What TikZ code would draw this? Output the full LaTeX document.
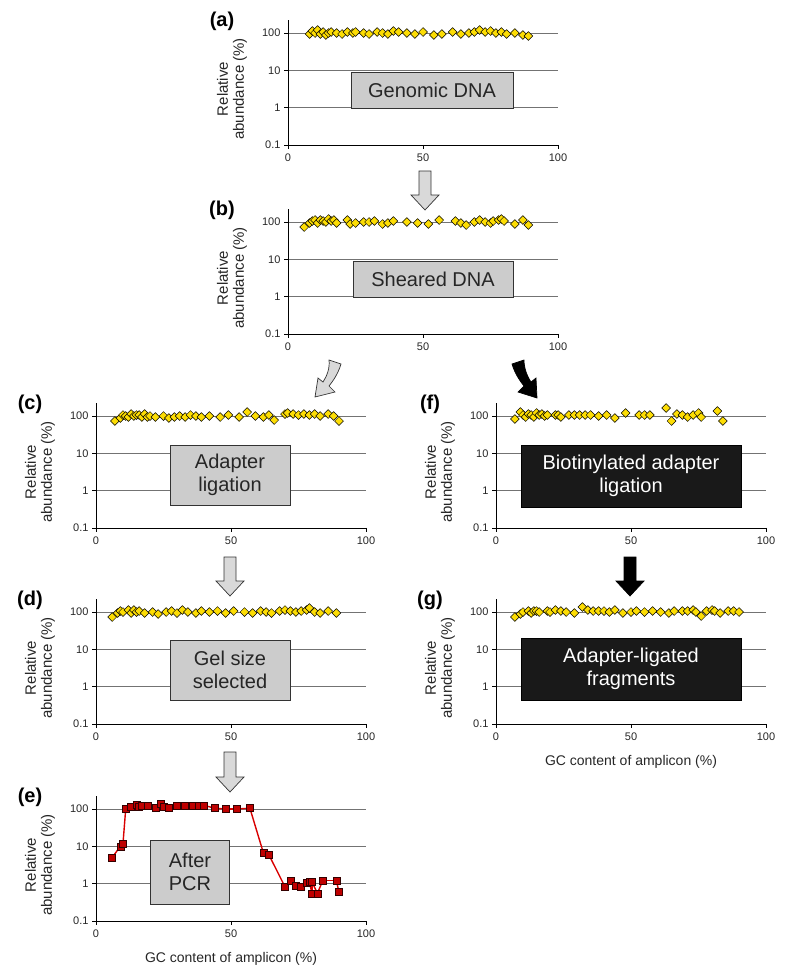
\documentclass[tikz,border=0pt]{standalone}
\usepackage{fontspec}
\setmainfont{Liberation Sans}
\usetikzlibrary{shapes.geometric}
\begin{document}
\begin{tikzpicture}[x=1pt,y=-1pt,
  grid/.style={draw=black!55,line width=0.7pt},
  ax/.style={draw=black,line width=0.8pt},
  tick/.style={font=\fontsize{11}{13}\selectfont,text=black!85},
  ytitle/.style={font=\fontsize{15}{16}\selectfont,align=center,rotate=90,text=black!85},
  plab/.style={font=\fontsize{20}{22}\selectfont\bfseries},
  gbox/.style={draw=black!80,fill=black!20,line width=0.6pt,font=\fontsize{20}{23}\selectfont,align=center,inner sep=0pt,text=black!85},
  bbox/.style={draw=black,fill=black!90,font=\fontsize{20}{23}\selectfont,align=center,inner sep=0pt,text=white},
  dia/.style={draw=black,fill=yellow!80!orange,line width=0.5pt,shape=diamond,inner sep=0pt,minimum width=9pt,minimum height=9pt},
  sq/.style={draw=black!80!red,fill=red!75!black,line width=0.5pt,inner sep=0pt,minimum size=7pt},
  garrow/.style={draw=black!80,fill=black!15,line width=0.7pt},
  barrow/.style={draw=black,fill=black,line width=0.7pt}]
\useasboundingbox (0,0) rectangle (785,980);
\newcommand\pnl[4]{%
  \foreach \k in {0,1,2} {\draw[grid] (#1,#2+\k*37.3) -- (#1+270,#2+\k*37.3);}
  \draw[ax] (#1,#2-13) -- (#1,#2+111.9) -- (#1+270,#2+111.9);
  \foreach \k/\t in {0/100,1/10,2/1,3/0.1} {\draw[ax] (#1-4,#2+\k*37.3) -- (#1,#2+\k*37.3);
    \node[tick,anchor=east] (#3t\k) at (#1-4,#2+\k*37.3) {\t};}
  \foreach \k/\t in {0/0,1/50,2/100} {\draw[ax] (#1+\k*135,#2+111.9) -- (#1+\k*135,#2+116);
    \node[tick,anchor=north] (#3x\k) at (#1+\k*135,#2+117) {\t};}
  \node[ytitle] (#3y) at (#1-56,#2+56) {Relative\\abundance (\%)};
  \node[plab] (#3l) at (#1-66,#2-12) {(#3)};
  \ifx#4y\node[font=\fontsize{14}{16}\selectfont,text=black!85] (#3g) at (#1+135,#2+150) {GC content of amplicon (\%)};\fi
}
\newcommand\dias[3]{\foreach \g/\d in {#3} {\node[dia] at (#1+\g*2.7,#2+\d) {};}}
% panels
\pnl{288}{33}{a}{n}
\pnl{288}{222}{b}{n}
\pnl{96}{416}{c}{n}
\pnl{96}{612}{d}{n}
\pnl{96}{809}{e}{y}
\pnl{496}{416}{f}{n}
\pnl{496}{612}{g}{y}
% boxes
\node[gbox,minimum width=162pt,minimum height=36pt] (ba) at (432,90) {Genomic DNA};
\node[gbox,minimum width=160pt,minimum height=36pt] (bb) at (433,279) {Sheared DNA};
\node[gbox,minimum width=120pt,minimum height=60pt] (bc) at (230,475) {Adapter\\ligation};
\node[gbox,minimum width=120pt,minimum height=60pt] (bd) at (230,670) {Gel size\\selected};
\node[gbox,minimum width=79pt,minimum height=64pt] (be) at (190,872) {After\\PCR};
\node[bbox,minimum width=220pt,minimum height=62pt] (bf) at (631,476) {Biotinylated adapter\\ligation};
\node[bbox,minimum width=220pt,minimum height=62pt] (bg) at (631,669) {Adapter-ligated\\fragments};
% data
\dias{288}{33}{8/1,9/-2,10/0,11/-3,12/1,13/-1,14/2,15/0,16/-1,18/0,20/1,22/-1,24/0,25/-1,28/0,30/1,33/-1,35/0,37/1,39/-2,41/-1,44/0,47/1,50/-1,54/2,57/1,61/-1,64/1,67/0,69/-1,71/-3,73/-1,75/-2,77/0,79/-1,81/1,84/0,87/2,89/3}
\dias{288}{222}{6/5,8/1,9/-1,10/-2,11/1,12/-2,13/-1,14/0,15/-3,16/-1,17/-2,18/1,22/-2,23/2,25/1,28/0,30/0,32/-1,35/2,37/1,39/-1,44/0,48/1,52/2,56/-2,62/-1,64/1,66/3,69/0,71/-2,73/0,75/1,76/-1,78/-2,79/-3,80/-1,84/2,87/-2,89/3}
\dias{96}{416}{7/5,9/2,10/-1,11/0,12/1,13/-2,14/0,15/-1,16/-1,17/1,18/-2,19/1,20/0,22/1,25/0,27/2,29/1,31/0,33/1,35/-1,37/0,39/1,42/0,46/1,49/-1,53/1,56/-4,59/0,62/1,64/-1,66/4,70/-2,71/-3,73/-2,75/-1,77/-2,79/-1,81/-2,83/0,86/-2,88/0,90/5}
\dias{96}{612}{6/5,8/1,9/-1,10/0,12/-2,13/1,14/-2,15/0,16/-1,18/1,21/0,23/2,26/0,28/-1,30/1,32/-2,34/0,37/1,39/-1,42/0,45/-1,48/1,51/-1,55/0,58/1,61/-1,63/0,65/1,68/-1,70/-2,72/-1,74/0,76/-1,78/-2,79/-4,81/0,83/1,86/-1,89/1}
\dias{496}{416}{7/3,9/-4,10/-1,11/1,12/-2,13/-1,14/1,15/-3,16/-1,17/-2,18/0,19/-1,22/-1,23/-1,24/1,27/-1,29/-1,31/-1,33/-1,35/-1,38/0,41/-1,44/2,48/-3,53/-1,55/-1,57/-1,63/-8,65/5,67/-2,69/-1,71/1,73/-1,75/-3,76/1,82/-5,84/5}
\dias{496}{612}{7/5,9/2,10/0,12/-1,13/1,14/-1,15/-1,16/0,19/-1,20/0,22/-2,24/-1,26/0,29/1,32/-5,34/-2,36/-1,38/-1,40/-1,42/0,44/-2,47/1,50/0,52/-1,55/0,58/-1,61/0,64/1,66/-1,69/-1,71/-1,73/-2,74/0,76/4,78/-1,80/-2,81/-1,83/1,86/-1,88/-1,90/0}
% PCR data
\def\pcr{6/5,9/10,10/12,11/100,13/115,15/130,16/115,17/120,19/125,22/105,24/135,25/115,27/110,30/120,33/120,36/120,38/125,40/125,44/105,48/100,52/100,57/105,62/6.5,64/6,70/0.8,72/1.2,74/0.85,76/0.8,78/1.05,79/1.1,80/0.55,80/1.1,82/0.55,84/1.2,89/1.2,90/0.6}
\foreach \g/\v [remember=\g as \pg (initially 6), remember=\v as \pv (initially 5)] in \pcr {
  \draw[red!85!black,line width=1.4pt] ({96+\pg*2.7},{809-ln(\pv/100)/ln(10)*37.3}) -- ({96+\g*2.7},{809-ln(\v/100)/ln(10)*37.3});}
\foreach \g/\v in \pcr {\node[sq] at ({96+\g*2.7},{809-ln(\v/100)/ln(10)*37.3}) {};}
% straight block arrows
\newcommand\barr[4]{\path[#4] (#1-6,#2) -- (#1+6,#2) -- (#1+6,#3-15) -- (#1+14,#3-15) -- (#1,#3) -- (#1-14,#3-15) -- (#1-6,#3-15) -- cycle;}
\barr{425}{171}{210}{garrow}
\barr{230}{557}{596}{garrow}
\barr{630}{557}{596}{barrow}
\barr{230}{752}{792}{garrow}
% curved arrows
\path[garrow] (329,360) -- (341,364) .. controls (338,374) and (333,381) .. (329,386) -- (335,392) -- (315,397) -- (318,378) -- (323,382) .. controls (327,376) and (330,368) .. (329,360) -- cycle;
\path[barrow] (524,360) -- (512,364) .. controls (515,374) and (520,381) .. (524,386) -- (518,392) -- (537,398) -- (536,378) -- (531,382) .. controls (527,376) and (524,368) .. (524,360) -- cycle;
\end{tikzpicture}
\end{document}
